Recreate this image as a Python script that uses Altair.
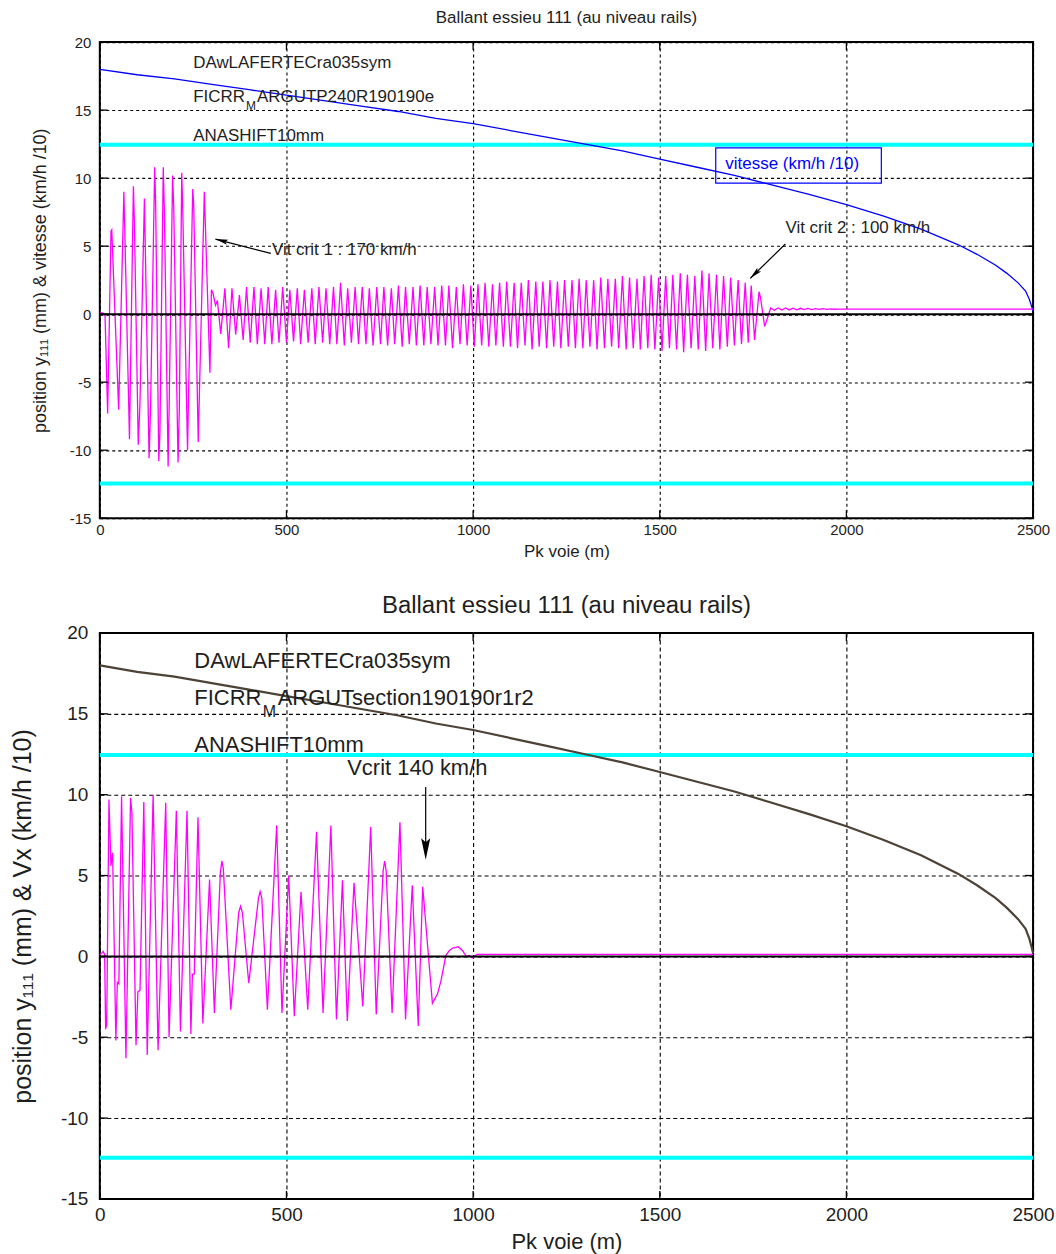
import altair as alt
import pandas as pd

FONT = "Liberation Sans, Arial, DejaVu Sans, sans-serif"
TXT = "#1e1e1e"

# ---------------- data ----------------
x_ticks = [0, 500, 1000, 1500, 2000, 2500]
y_ticks = [-15, -10, -5, 0, 5, 10, 15, 20]
limit_lines = [12.45, -12.45]

# speed / 10 (km/h) along the track (same run profile in both panels)
vit_x = [0, 100, 200, 300, 400, 500, 600, 700, 800, 900, 1000, 1100, 1200, 1300, 1400,
         1500, 1600, 1700, 1800, 1900, 2000, 2100, 2200, 2300, 2350, 2400, 2430, 2460,
         2480, 2490, 2497, 2500]
vit_y = [18.0, 17.6, 17.3, 16.9, 16.5, 16.1, 15.7, 15.3, 14.9, 14.4, 14.0, 13.5, 13.0, 12.5,
         12.0, 11.4, 10.8, 10.2, 9.5, 8.8, 8.05, 7.2, 6.25, 5.1, 4.4, 3.6, 3.0, 2.3, 1.7,
         1.1, 0.5, 0.2]

# top panel, lateral position y111 : large hunting part
top_a_x = [0, 8, 14, 21, 30, 32, 50.5, 64.5, 79.5, 81.5, 90, 92.6, 103, 107.5, 119.5, 132,
           136, 147, 149.6, 158, 161, 170, 173, 183, 186, 195, 198, 209.6, 213, 219.5, 222,
           235, 238, 249, 251.5, 263.7, 266.5, 280, 295, 299, 303.5, 310, 315, 324]
top_a_y = [0.1, 0.1, -0.1, -7.3, 6.1, 6.2, -7.0, 9.0, -9.2, -5.4, 9.4, 6.8, -9.6, -6.6, 8.5,
           -10.6, -6.8, 10.8, 8.1, -10.8, -8.7, 10.8, 7.6, -11.2, -6.4, 10.2, 7.9, -10.9,
           -7.0, 10.4, 7.9, -10.0, -5.6, 9.2, 8.1, -9.4, -6.2, 9.0, -4.3, 1.8, 1.5, 0.65,
           1.0, -1.45]

# top panel : small hunting part (peaks and troughs)
mid_peak_x = [335, 354, 374, 393, 413, 432, 451, 471, 490, 509, 529, 548, 568, 587, 606,
              626, 645, 664, 684, 703, 722, 742, 761, 781, 800, 819, 839, 858, 877, 897,
              916, 935, 955, 974, 994, 1013, 1032, 1052, 1071, 1090, 1110, 1129, 1148,
              1168, 1187, 1206, 1226, 1245, 1265, 1284, 1303, 1323, 1342, 1361, 1381,
              1400, 1419, 1439, 1458, 1477, 1497, 1516, 1535, 1555, 1574, 1594, 1613,
              1632, 1652, 1671, 1690, 1710, 1729, 1745]
mid_peak_y = [1.9, 1.9, 1.4, 2.0, 2.0, 1.9, 2.0, 1.8, 2.0,
              1.8, 1.9, 1.8, 1.9, 2.0, 1.9, 2.0, 2.3, 1.9, 2.0,
              2.0, 1.9, 2.0, 2.0, 1.9, 2.1, 2.0, 2.0, 2.1, 2.0,
              2.0, 2.1, 2.1, 2.0, 2.2, 2.1, 2.2, 2.3, 2.2, 2.3,
              2.4, 2.3, 2.3, 2.5, 2.4, 2.4, 2.5, 2.4, 2.5, 2.5,
              2.6, 2.5, 2.5, 2.7, 2.6, 2.6, 2.8, 2.7, 2.6, 2.8,
              2.9, 2.7, 2.8, 2.9, 3.0, 2.9, 2.8, 3.2, 3.0, 2.9,
              2.8, 2.7, 2.5, 2.3, 2.1]
mid_trough_x = [345, 364, 384, 403, 422, 442, 461, 480, 500, 519, 538, 558, 577, 597, 616,
                635, 655, 674, 693, 713, 732, 752, 771, 790, 810, 829, 848, 868, 887, 906,
                926, 945, 965, 984, 1003, 1023, 1042, 1061, 1081, 1100, 1119, 1139, 1158,
                1177, 1197, 1216, 1235, 1255, 1274, 1294, 1313, 1332, 1352, 1371, 1390,
                1410, 1429, 1448, 1468, 1487, 1506, 1526, 1545, 1564, 1584, 1603, 1623,
                1642, 1661, 1681, 1700, 1719, 1737, 1754]
mid_trough_y = [-2.5, -1.5, -1.9, -2.1, -2.2, -2.2, -2.2, -2.1, -2.1,
                -2.0, -2.2, -2.1, -2.2, -2.1, -2.2, -2.2, -2.3, -2.1, -2.2,
                -2.2, -2.3, -2.2, -2.3, -2.2, -2.4, -2.2, -2.3, -2.3, -2.2,
                -2.3, -2.3, -2.5, -2.2, -2.3, -2.4, -2.3, -2.4, -2.3, -2.4,
                -2.4, -2.5, -2.3, -2.6, -2.4, -2.5, -2.4, -2.5, -2.4, -2.5,
                -2.5, -2.4, -2.6, -2.5, -2.4, -2.5, -2.6, -2.5, -2.6, -2.5,
                -2.6, -2.7, -2.5, -2.6, -2.8, -2.5, -2.6, -2.7, -2.5, -2.6,
                -2.4, -2.3, -2.2, -2.1, -1.9]

# top panel : decay and flat end
top_tail_x = [1766, 1770, 1781, 1786, 1797, 1807, 1817, 1827, 1837, 1847, 1857, 1867, 1877,
              1887, 1897, 1907, 1917, 1927, 1937, 1947, 1957, 1967, 1980, 2000, 2500]
top_tail_y = [1.65, 1.2, -0.9, -0.5, 0.45, 0.28, 0.46, 0.30, 0.45, 0.31, 0.44, 0.32, 0.43,
              0.33, 0.42, 0.34, 0.41, 0.35, 0.40, 0.35, 0.39, 0.36, 0.37, 0.37, 0.37]

# bottom panel, lateral position y111
bot_x = [0, 5, 9, 13, 15.6, 18.5, 24.5, 29.8, 34.3, 43, 47, 51, 58.3, 70, 82.3, 86, 97, 102,
         107.7, 117.9, 127, 142.8, 156, 176.6, 185.5, 205, 216, 233.6, 244, 248, 253, 263,
         276, 294, 307, 323, 327, 331, 351, 372, 377, 382, 399, 425, 429.4, 434, 449, 473.8,
         488, 506, 521, 539, 557, 580.6, 598, 619, 634, 650, 663, 681, 704.5, 725.7, 740.5,
         759, 763, 767, 783, 804, 819, 837, 853, 865, 891, 905, 914, 927, 936, 944, 954,
         960, 972, 981, 990, 998, 1010, 2500]
bot_y = [0.1, 0.2, 0.3, 0.1, -4.5, -4.2, 9.7, 5.6, 6.4, -5.2, -1.6, -1.7, 9.9, -6.3, 9.8, 8.9,
         -5.5, -2.2, -2.1, 9.55, -6.1, 10.0, -5.8, 9.5, -5.0, 9.0, -4.65, 9.0, -4.8, -1.1,
         -1.1, 8.6, -4.15, 4.75, -3.5, 5.2, 5.9, 5.4, -3.3, 2.7, 3.1, 2.7, -1.65, 3.6, 4.0,
         3.6, -3.3, 8.1, -3.5, 5.0, -3.7, 4.0, -3.3, 7.7, -3.5, 8.1, -3.9, 4.7, -4.0, 4.55,
         -3.1, 8.0, -3.6, 5.3, 5.9, 5.3, -3.5, 8.3, -3.9, 4.4, -4.3, 4.3, -2.9, -2.3, -1.5,
         0.05, 0.35, 0.5, 0.55, 0.6, 0.35, 0.0, 0.05, -0.1, 0.12, 0.12]

# annotations (text, x in m, y in plot units)
top_notes = [("DAwLAFERTECra035sym", 250, 18.48), ("FICRR", 250, 15.94),
             ("ARGUTP240R190190e", 421, 15.94), ("ANASHIFT10mm", 250, 13.13),
             ("Vit crit 1 : 170 km/h", 461, 4.70), ("Vit crit 2 : 100 km/h", 1836.6, 6.32)]
top_sub = [("M", 391.6, 15.29)]
top_legend_text = [("vitesse (km/h /10)", 1675.6, 11.04)]
top_legend_box = [(1650, 2093.6, 12.22, 9.64)]
top_arrows = [(458, 4.47, 309.7, 5.52), (1836.6, 5.16, 1742.4, 2.63)]
top_heads = [(327.8, 5.39, 284.4), (1755.7, 2.99, 225.7)]

bot_notes = [("DAwLAFERTECra035sym", 253.3, 18.29), ("FICRR", 253.3, 15.96),
             ("ARGUTsection190190r1r2", 476.5, 15.96), ("ANASHIFT10mm", 253.3, 13.07),
             ("Vcrit 140 km/h", 662.8, 11.62)]
bot_sub = [("M", 436.5, 15.12)]
bot_arrows = [(873, 10.47, 873, 6.6)]
bot_heads = [(873, 6.72, 180)]

ARROW = "M0,-1L0.38,0.8L0,0.45L-0.38,0.8Z"

# ---------------- build tables ----------------
mid_x = [v for pr in zip(mid_peak_x, mid_trough_x) for v in pr]
mid_y = [v for pr in zip(mid_peak_y, mid_trough_y) for v in pr]
top_sig = pd.DataFrame({"x": top_a_x + mid_x + top_tail_x, "y": top_a_y + mid_y + top_tail_y})
top_sig["o"] = range(len(top_sig))
bot_sig = pd.DataFrame({"x": bot_x, "y": bot_y})
bot_sig["o"] = range(len(bot_sig))
vit = pd.DataFrame({"x": vit_x, "y": vit_y})

W = 935


def panel(sig, height, fs_lab, fs_title, fs_ax, fs_note, fs_sub, title, ytitle,
          vit_color, vit_w, notes, sub, arrows, heads, head_size, grid_dash,
          lab_pad_x, lab_pad_y, tpad_x, tpad_y, title_off, fs_ytitle, legend=None):
    xs = alt.Scale(domain=[0, 2500], nice=False, zero=False)
    ys = alt.Scale(domain=[-15, 20], nice=False, zero=False)
    ax_common = dict(grid=True, gridDash=grid_dash, gridColor="black", gridWidth=1.1,
                     gridOpacity=1, domain=False, ticks=False, labelFont=FONT,
                     titleFont=FONT, labelColor=TXT, titleColor=TXT,
                     titleFontWeight="normal", labelFlush=False,
                     labelExpr="'' + datum.value")
    ax_x = alt.Axis(values=x_ticks, title="Pk voie (m)", labelFontSize=fs_lab,
                    titleFontSize=fs_ax, labelPadding=lab_pad_x, titlePadding=tpad_x,
                    **ax_common)
    ax_y = alt.Axis(values=y_ticks, title=ytitle, labelFontSize=fs_lab,
                    titleFontSize=fs_ytitle, labelPadding=lab_pad_y, titlePadding=tpad_y,
                    **ax_common)
    X0 = alt.X("x:Q", scale=xs, axis=ax_x)
    Y0 = alt.Y("y:Q", scale=ys, axis=ax_y)
    ux = 2500 / W
    uy = 35 / height
    tl = 8

    layers = []
    layers.append(alt.Chart(pd.DataFrame({"x": [0, 2500], "y": [-15, 20]})).mark_point(
        opacity=0).encode(x=X0, y=Y0))
    layers.append(alt.Chart(pd.DataFrame({"y": limit_lines})).mark_rule(
        color="#00ffff", strokeWidth=4).encode(y=Y0))
    layers.append(alt.Chart(vit).mark_line(color=vit_color, strokeWidth=vit_w).encode(
        x=X0, y=Y0))
    layers.append(alt.Chart(sig).mark_line(color="#ff00ff", strokeWidth=1.3).encode(
        x=X0, y=Y0, order="o:Q"))
    layers.append(alt.Chart(pd.DataFrame({"y": [0]})).mark_rule(
        color="black", strokeWidth=2).encode(y=Y0))
    # inner tick marks on the frame
    xt = pd.DataFrame([{"x": v, "y": -15, "y2": -15 + tl * uy} for v in x_ticks] +
                      [{"x": v, "y": 20 - tl * uy, "y2": 20} for v in x_ticks])
    layers.append(alt.Chart(xt).mark_rule(color="black", strokeWidth=1.3).encode(
        x=X0, y=Y0, y2="y2:Q"))
    yt = pd.DataFrame([{"x": 0, "x2": tl * ux, "y": v} for v in y_ticks] +
                      [{"x": 2500 - tl * ux, "x2": 2500, "y": v} for v in y_ticks])
    layers.append(alt.Chart(yt).mark_rule(color="black", strokeWidth=1.3).encode(
        x=X0, x2="x2:Q", y=Y0))
    nd = pd.DataFrame(notes, columns=["t", "x", "y"])
    layers.append(alt.Chart(nd).mark_text(align="left", baseline="middle", font=FONT,
                                          fontSize=fs_note, color=TXT).encode(
        x=X0, y=Y0, text="t:N"))
    sd = pd.DataFrame(sub, columns=["t", "x", "y"])
    layers.append(alt.Chart(sd).mark_text(align="left", baseline="middle", font=FONT,
                                          fontSize=fs_sub, color=TXT).encode(
        x=X0, y=Y0, text="t:N"))
    ad = pd.DataFrame(arrows, columns=["x", "y", "x2", "y2"])
    layers.append(alt.Chart(ad).mark_rule(color="black", strokeWidth=1.2).encode(
        x=X0, y=Y0, x2="x2:Q", y2="y2:Q"))
    hd = pd.DataFrame(heads, columns=["x", "y", "a"])
    layers.append(alt.Chart(hd).mark_point(shape=ARROW, filled=True, color="black",
                                           opacity=1, size=head_size).encode(
        x=X0, y=Y0, angle=alt.Angle("a:Q", scale=None)))
    if legend is not None:
        box, txt = legend
        bd = pd.DataFrame(box, columns=["x", "x2", "y", "y2"])
        layers.append(alt.Chart(bd).mark_rect(fillOpacity=0, stroke="#0000ff",
                                              strokeWidth=1.2).encode(
            x=X0, x2="x2:Q", y=Y0, y2="y2:Q"))
        td = pd.DataFrame(txt, columns=["t", "x", "y"])
        layers.append(alt.Chart(td).mark_text(align="left", baseline="middle", font=FONT,
                                              fontSize=fs_note, color="#0000ff").encode(
            x=X0, y=Y0, text="t:N"))
    return alt.layer(*layers).properties(
        width=W, height=height,
        title=alt.TitleParams(text=title, font=FONT, fontSize=fs_title,
                              fontWeight="normal", color=TXT, offset=title_off,
                              anchor="middle"))


top = panel(top_sig, 477, 15, 17, 17, 17, 12, "Ballant essieu 111 (au niveau rails)",
            "position y\u2081\u2081\u2081 (mm) & vitesse (km/h /10)", "#0000ff", 1.3,
            top_notes, top_sub, top_arrows, top_heads, 196, [3, 3],
            4, 9, 6, 20, 8, 18, legend=(top_legend_box, top_legend_text))
bottom = panel(bot_sig, 567, 19, 24, 22, 22, 16, "Ballant essieu 111 (au niveau rails)",
               "position y\u2081\u2081\u2081 (mm) & Vx (km/h /10)", "#4d4236", 2.2,
               bot_notes, bot_sub, bot_arrows, bot_heads, 576, [4, 3],
               7, 12, 7, 25, 6, 25)

chart = alt.vconcat(top, bottom, spacing=33).properties(
    padding={"left": 9, "top": 7, "right": 0, "bottom": 0}
).configure_view(stroke="black", strokeWidth=2)

chart.save("out.html", embed_options={"renderer": "svg", "actions": False})
